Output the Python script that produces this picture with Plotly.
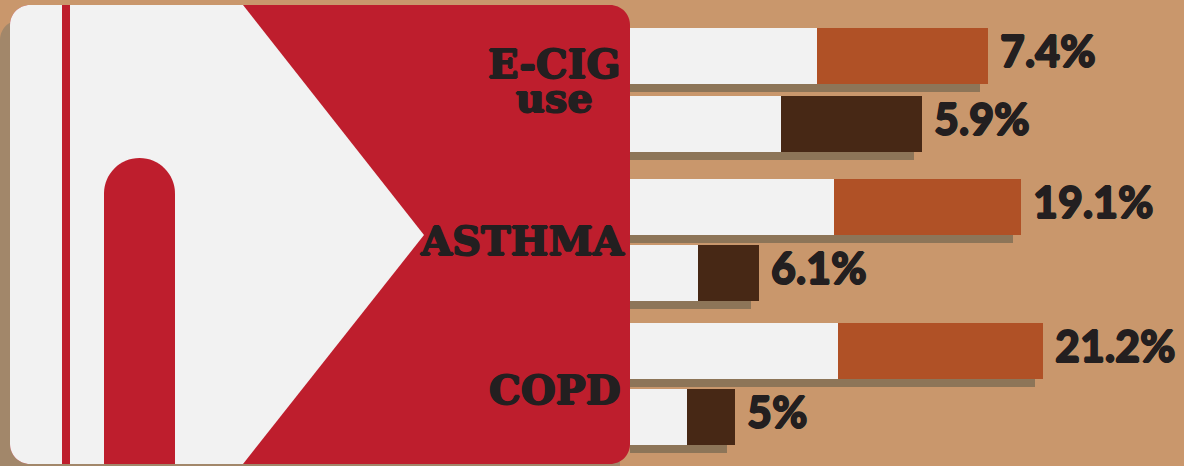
import plotly.graph_objects as go

# ---------------- data ----------------
categories = ["E-CIG use", "ASTHMA", "COPD"]
cat_lines = [["E-CIG", "use"], ["ASTHMA"], ["COPD"]]
# first (orange) series per category
orange_pct = ["7.4%", "19.1%", "21.2%"]
orange_base = [187, 204, 208]     # drawn length of light segment (design units)
orange_fill = [171, 187, 205]     # drawn length of coloured segment
# second (dark brown) series per category
brown_pct = ["5.9%", "6.1%", "5%"]
brown_base = [151, 68, 57]
brown_fill = [141, 61, 48]

# ---------------- styles / layout ----------------
W, H = 1184, 466
X0 = 630                      # pixel where bars start
BG = "#c9976c"
RED = "#be1e2d"
LIGHT = "#f2f2f2"
ORANGE = "#b05126"
BROWN = "#472815"
SHADOW = "#8d7558"
INK = "#231f20"
BAR_H = 56
SH = 8

# row centres (pixels from top) : orange / brown for each category
row_orange = [56, 207, 351]
row_brown = [124, 273, 417]

rows, base, fill, cols, labels = [], [], [], [], []
for i in range(len(categories)):
    rows += [row_orange[i], row_brown[i]]
    base += [orange_base[i], brown_base[i]]
    fill += [orange_fill[i], brown_fill[i]]
    cols += [ORANGE, BROWN]
    labels += [orange_pct[i], brown_pct[i]]
total = [b + f for b, f in zip(base, fill)]


def thick(c, d):
    return f"{d}px 0 0 {c}, -{d}px 0 0 {c}, 0 {d}px 0 {c}, 0 -{d}px 0 {c}"


fig = go.Figure()
# shadows
fig.add_trace(go.Bar(
    orientation="h", y=[r + SH for r in rows], x=[t - SH for t in total],
    width=BAR_H, marker=dict(color=SHADOW, line=dict(width=0)),
    hoverinfo="skip", showlegend=False))
# light base segment
fig.add_trace(go.Bar(
    orientation="h", y=rows, x=base, width=BAR_H,
    marker=dict(color=LIGHT, line=dict(width=0)),
    hoverinfo="skip", showlegend=False))
# coloured segment
fig.add_trace(go.Bar(
    orientation="h", y=rows, x=fill, base=base, width=BAR_H,
    marker=dict(color=cols, line=dict(width=0)),
    hoverinfo="skip", showlegend=False))
# percentage labels
fig.add_trace(go.Scatter(
    x=[t + 12 for t in total], y=rows, mode="text", text=labels,
    textposition="middle right",
    textfont=dict(family="Lato Black, Lato", size=43, color=INK, weight=900,
                  shadow=thick(INK, 0.8)),
    hoverinfo="skip", showlegend=False))


def P(x, y):
    return f"{x - X0},{y}"


def rrect(x0, y0, x1, y1, r):
    k = 0.5523 * r
    return ("M" + P(x0 + r, y0) + " L" + P(x1 - r, y0) +
            " C" + P(x1 - r + k, y0) + " " + P(x1, y0 + r - k) + " " + P(x1, y0 + r) +
            " L" + P(x1, y1 - r) +
            " C" + P(x1, y1 - r + k) + " " + P(x1 - r + k, y1) + " " + P(x1 - r, y1) +
            " L" + P(x0 + r, y1) +
            " C" + P(x0 + r - k, y1) + " " + P(x0, y1 - r + k) + " " + P(x0, y1 - r) +
            " L" + P(x0, y0 + r) +
            " C" + P(x0, y0 + r - k) + " " + P(x0 + r - k, y0) + " " + P(x0 + r, y0) + " Z")


R = 20
k = 0.5523 * R
PX0, PY0, PX1, PY1 = 10, 5, 630, 464
shapes = []
# panel drop shadow
shapes.append(dict(type="path", path=rrect(0, 20, 620, 500, R),
                   fillcolor="#a2876a", line=dict(width=0), layer="above"))
# red panel
shapes.append(dict(type="path", path=rrect(PX0, PY0, PX1, PY1, R),
                   fillcolor=RED, line=dict(width=0), layer="above"))
# white arrow region on the left
white = ("M" + P(PX0 + R, PY0) + " L" + P(243, PY0) + " L" + P(424, 235) +
         " L" + P(243, PY1) + " L" + P(PX0 + R, PY1) +
         " C" + P(PX0 + R - k, PY1) + " " + P(PX0, PY1 - R + k) + " " + P(PX0, PY1 - R) +
         " L" + P(PX0, PY0 + R) +
         " C" + P(PX0, PY0 + R - k) + " " + P(PX0 + R - k, PY0) + " " + P(PX0 + R, PY0) + " Z")
shapes.append(dict(type="path", path=white, fillcolor=LIGHT,
                   line=dict(width=0), layer="above"))
# thin red stripe
shapes.append(dict(type="rect", x0=62 - X0, x1=70 - X0, y0=PY0, y1=PY1,
                   fillcolor=RED, line=dict(width=0), layer="above"))
# red pillar with rounded top
r2 = 35.5
k2 = 0.5523 * r2
cx = 139.5
top = 158
pillar = ("M" + P(104, PY1) + " L" + P(104, top + r2) +
          " C" + P(104, top + r2 - k2) + " " + P(cx - k2, top) + " " + P(cx, top) +
          " C" + P(cx + k2, top) + " " + P(175, top + r2 - k2) + " " + P(175, top + r2) +
          " L" + P(175, PY1) + " Z")
shapes.append(dict(type="path", path=pillar, fillcolor=RED,
                   line=dict(width=0), layer="above"))

# category labels: base font small so that line spacing is tight, glyphs at 40px
cat_font = dict(family="DejaVu Serif", size=26, color=INK, weight="bold",
                shadow=thick(INK, 0.9))
cat_x = [623, 627, 622]
cat_y = [80, 240, 389]
annotations = []
for lines, xx, yy in zip(cat_lines, cat_x, cat_y):
    txt = "<br>".join(f"<span style='font-size:40px'>{ln}</span>" for ln in lines)
    annotations.append(dict(x=xx - X0, y=yy, text=txt, showarrow=False,
                            xanchor="right", yanchor="middle", align="center",
                            font=cat_font))

fig.update_layout(
    width=W, height=H,
    margin=dict(l=0, r=0, t=0, b=0, pad=0),
    paper_bgcolor=BG, plot_bgcolor=BG,
    barmode="overlay", bargap=0,
    shapes=shapes, annotations=annotations,
    xaxis=dict(range=[-X0, W - X0], visible=False, fixedrange=True),
    yaxis=dict(range=[H, 0], visible=False, fixedrange=True),
    showlegend=False,
)

fig.write_html(
    "out.html",
    config={"displayModeBar": False},
    post_script="document.body.style.margin='0';document.body.style.overflow='hidden';document.body.style.background='" + BG + "';",
)
